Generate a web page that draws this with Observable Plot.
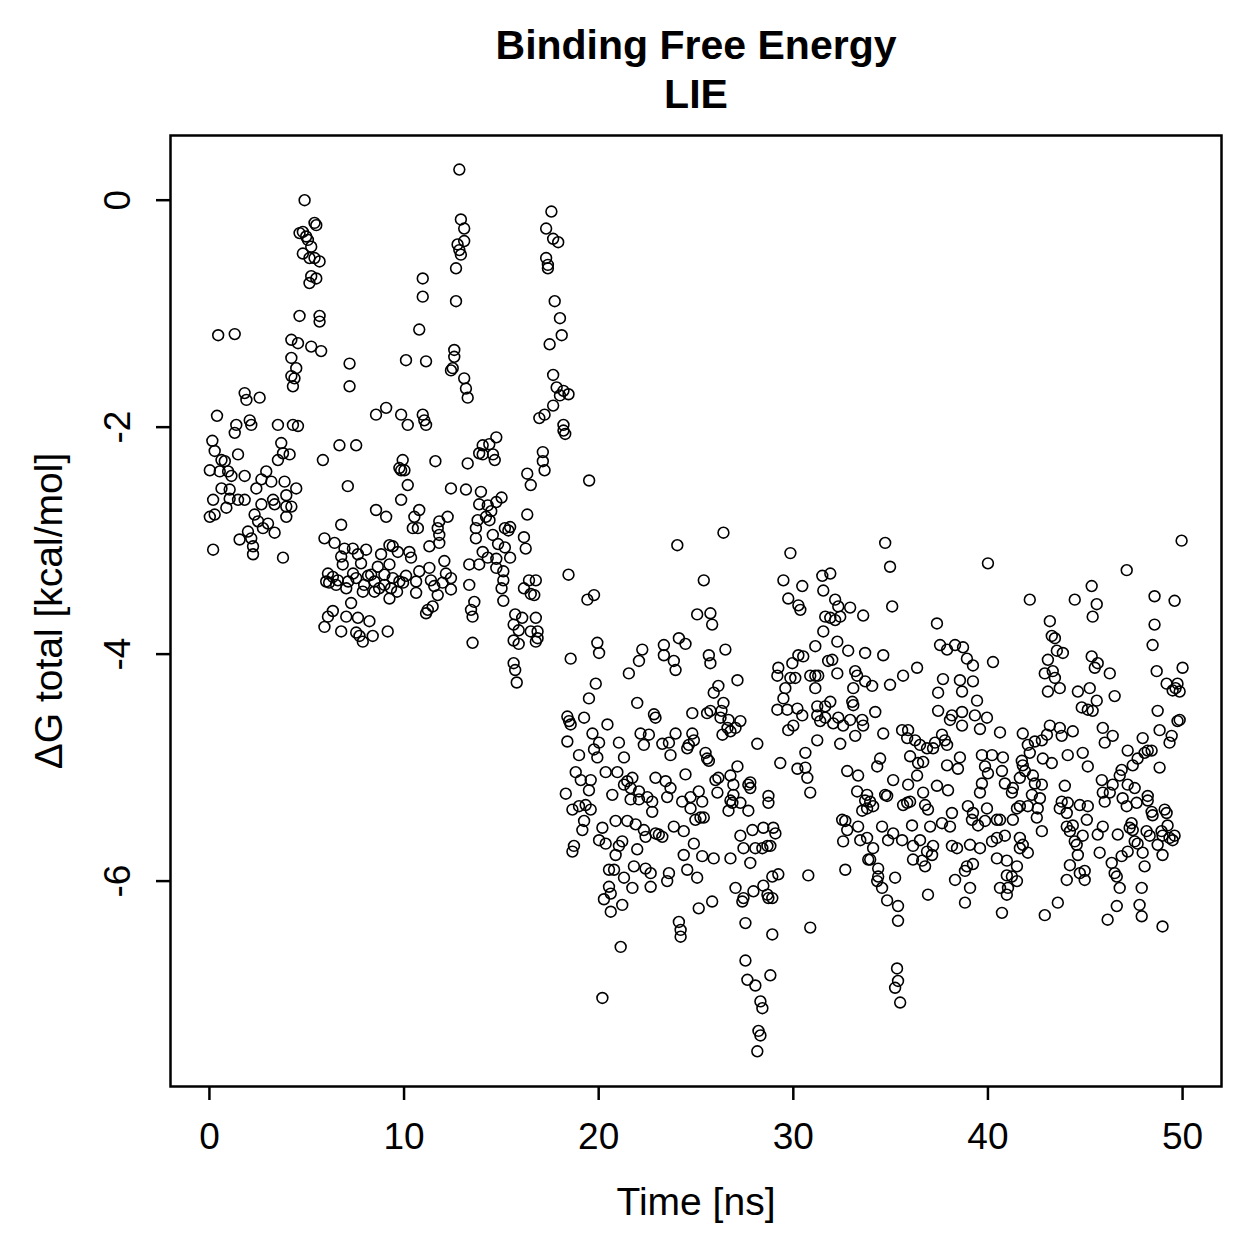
<!DOCTYPE html>
<html><head><meta charset="utf-8">
<script src="https://cdn.jsdelivr.net/npm/d3@7"></script>
<script src="https://cdn.jsdelivr.net/npm/@observablehq/plot@0.6"></script>
<style>html,body{margin:0;padding:0;background:#fff;} #chart svg{display:block}</style>
</head><body><div id="chart"></div>
<script>
// [time (ns), ΔG total (kcal/mol)]
const pts_0_4 = [[0.45,-1.19],[1.30,-1.18],[1.81,-1.70],[1.90,-1.76],[2.58,-1.74],[0.39,-1.90],[1.38,-1.98],[1.30,-2.05],[2.07,-1.94],[2.15,-1.98],[3.52,-1.98],[4.29,-1.98],[0.15,-2.12],[0.27,-2.21],[0.62,-2.29],[0.79,-2.30],[1.47,-2.24],[3.69,-2.14],[3.78,-2.23],[4.12,-2.24],[3.52,-2.29],[0.02,-2.38],[0.53,-2.39],[0.96,-2.39],[1.13,-2.43],[1.81,-2.43],[2.92,-2.39],[2.67,-2.46],[3.18,-2.48],[3.86,-2.48],[0.62,-2.54],[1.04,-2.55],[2.41,-2.54],[3.95,-2.60],[0.19,-2.64],[1.04,-2.63],[1.47,-2.64],[1.81,-2.64],[3.27,-2.64],[3.35,-2.68],[0.87,-2.71],[2.67,-2.68],[3.95,-2.70],[0.02,-2.79],[0.27,-2.77],[2.32,-2.77],[3.95,-2.79],[2.50,-2.83],[3.01,-2.85],[2.75,-2.89],[1.98,-2.92],[3.35,-2.93],[1.55,-2.99],[2.15,-2.98],[0.19,-3.08],[2.24,-3.05],[2.24,-3.12],[3.78,-3.15],[4.21,-1.23],[4.21,-1.39],[4.21,-1.55],[4.29,-1.64]];
const pts_4_9 = [[4.89,0.00],[5.40,-0.20],[5.49,-0.22],[4.80,-0.28],[4.63,-0.29],[4.97,-0.32],[5.06,-0.35],[5.23,-0.41],[4.80,-0.47],[5.14,-0.51],[5.40,-0.51],[5.66,-0.54],[5.23,-0.67],[5.49,-0.69],[5.14,-0.73],[4.63,-1.02],[5.66,-1.02],[5.66,-1.07],[4.55,-1.26],[5.23,-1.29],[5.74,-1.33],[7.20,-1.44],[7.20,-1.64],[4.46,-1.48],[4.37,-1.57],[8.56,-1.89],[9.08,-1.83],[4.55,-1.99],[6.68,-2.16],[7.54,-2.16],[5.83,-2.29],[7.11,-2.52],[4.46,-2.54],[4.21,-2.70],[8.56,-2.73],[9.08,-2.79],[6.77,-2.86],[5.91,-2.98],[6.43,-3.02],[6.94,-3.07],[7.37,-3.07],[8.05,-3.08],[8.82,-3.12],[9.25,-3.04],[6.77,-3.14],[7.63,-3.12],[7.79,-3.20],[6.85,-3.21],[8.65,-3.23],[6.09,-3.29],[6.34,-3.32],[6.00,-3.36],[6.60,-3.35],[7.54,-3.33],[8.31,-3.30],[8.48,-3.36],[8.99,-3.30],[8.99,-3.39],[7.03,-3.42],[7.88,-3.45],[8.48,-3.45],[9.25,-3.51],[7.28,-3.55],[6.34,-3.62],[6.09,-3.67],[7.03,-3.67],[7.63,-3.68],[8.22,-3.71],[5.91,-3.76],[6.77,-3.80],[7.54,-3.81],[7.71,-3.84],[8.39,-3.84],[7.88,-3.89],[9.16,-3.80],[6.15,-3.37],[6.51,-3.39],[7.13,-3.36],[7.38,-3.29],[7.95,-3.39],[8.15,-3.31],[8.72,-3.42]];
const pts_9_14 = [[12.84,0.27],[12.92,-0.17],[13.09,-0.25],[13.09,-0.36],[12.75,-0.39],[12.84,-0.44],[12.92,-0.48],[12.67,-0.60],[10.96,-0.69],[10.96,-0.85],[12.67,-0.89],[10.78,-1.14],[10.10,-1.41],[11.13,-1.42],[12.58,-1.32],[12.58,-1.38],[12.50,-1.48],[12.41,-1.50],[13.09,-1.57],[13.18,-1.66],[13.27,-1.74],[9.85,-1.89],[10.19,-1.98],[10.96,-1.89],[11.04,-1.94],[11.13,-1.98],[14.04,-2.16],[13.86,-2.23],[9.93,-2.29],[9.76,-2.36],[10.02,-2.38],[9.85,-2.38],[11.61,-2.30],[13.27,-2.32],[10.19,-2.51],[12.41,-2.54],[13.18,-2.55],[13.95,-2.57],[9.85,-2.64],[10.78,-2.73],[13.86,-2.68],[10.53,-2.79],[10.45,-2.89],[10.71,-2.89],[12.24,-2.79],[11.81,-2.83],[11.73,-2.89],[11.81,-2.95],[11.81,-3.02],[13.78,-2.82],[13.69,-2.89],[13.69,-2.98],[9.42,-3.05],[9.68,-3.10],[10.27,-3.10],[10.36,-3.15],[11.30,-3.05],[14.04,-3.10],[9.25,-3.21],[9.42,-3.33],[9.76,-3.36],[9.33,-3.42],[10.78,-3.27],[10.62,-3.36],[10.62,-3.46],[11.30,-3.24],[11.38,-3.35],[11.55,-3.40],[12.07,-3.18],[12.15,-3.29],[11.98,-3.37],[12.41,-3.33],[12.41,-3.43],[11.73,-3.48],[11.22,-3.61],[11.47,-3.58],[11.13,-3.64],[13.35,-3.21],[13.86,-3.21],[13.35,-3.39],[13.61,-3.54],[13.44,-3.61],[13.52,-3.67],[13.52,-3.90],[9.95,-3.37],[10.10,-3.31],[9.64,-3.45]];
const pts_14_19 = [[17.57,-0.10],[17.30,-0.25],[17.66,-0.34],[17.92,-0.37],[17.30,-0.51],[17.39,-0.57],[17.39,-0.60],[17.74,-0.89],[18.01,-1.04],[18.10,-1.19],[17.48,-1.27],[17.66,-1.54],[17.84,-1.65],[18.19,-1.68],[18.45,-1.71],[18.01,-1.72],[17.66,-1.81],[17.22,-1.89],[16.95,-1.92],[18.19,-1.98],[18.19,-2.03],[18.28,-2.06],[14.74,-2.09],[14.38,-2.15],[14.57,-2.24],[14.66,-2.29],[14.04,-2.24],[17.13,-2.22],[17.13,-2.30],[17.22,-2.38],[16.33,-2.41],[16.51,-2.51],[19.51,-2.47],[15.01,-2.62],[14.74,-2.66],[14.30,-2.69],[14.48,-2.74],[14.21,-2.79],[14.39,-2.82],[16.33,-2.77],[15.18,-2.89],[15.45,-2.88],[15.36,-2.91],[16.16,-2.97],[16.25,-3.07],[14.56,-2.95],[14.83,-3.03],[15.18,-3.06],[14.30,-3.15],[14.74,-3.16],[15.45,-3.15],[14.74,-3.24],[15.10,-3.27],[16.42,-3.35],[16.77,-3.35],[16.16,-3.42],[16.51,-3.47],[16.69,-3.48],[15.10,-3.35],[15.01,-3.42],[15.10,-3.53],[18.45,-3.30],[15.71,-3.65],[16.07,-3.68],[16.77,-3.68],[15.63,-3.74],[15.89,-3.79],[16.51,-3.80],[16.86,-3.80],[15.63,-3.88],[15.89,-3.91],[16.86,-3.86],[16.77,-3.89],[15.63,-4.08],[15.71,-4.14],[15.79,-4.25]];
const pts_18_26 = [[24.04,-3.04],[25.40,-3.35],[19.42,-3.52],[19.76,-3.48],[25.06,-3.65],[25.74,-3.64],[25.83,-3.74],[19.93,-3.90],[20.02,-3.99],[18.56,-4.04],[22.24,-3.96],[22.07,-4.06],[21.55,-4.17],[23.35,-3.92],[23.35,-4.01],[24.12,-3.86],[24.46,-3.91],[23.86,-4.06],[23.95,-4.14],[25.66,-4.01],[25.74,-4.08],[19.85,-4.26],[19.50,-4.39],[21.98,-4.43],[25.91,-4.34],[18.39,-4.55],[18.48,-4.59],[18.56,-4.62],[19.25,-4.56],[20.45,-4.62],[22.84,-4.53],[22.92,-4.56],[24.81,-4.52],[25.57,-4.52],[25.74,-4.50],[19.68,-4.70],[18.39,-4.77],[22.15,-4.70],[22.58,-4.71],[23.95,-4.70],[24.81,-4.70],[24.89,-4.76],[20.02,-4.78],[21.04,-4.78],[22.32,-4.80],[23.27,-4.79],[23.61,-4.78],[24.55,-4.83],[24.63,-4.80],[19.76,-4.84],[18.99,-4.89],[19.93,-4.91],[21.30,-4.91],[23.69,-4.89],[25.49,-4.87],[25.57,-4.92],[25.66,-4.94],[18.82,-5.04],[19.08,-5.11],[19.59,-5.11],[20.36,-5.04],[20.96,-5.04],[21.73,-5.09],[21.47,-5.12],[22.92,-5.09],[23.44,-5.12],[24.46,-5.06],[26.00,-5.11],[18.31,-5.23],[19.50,-5.20],[20.70,-5.24],[21.30,-5.15],[21.64,-5.18],[22.07,-5.21],[23.69,-5.18],[25.14,-5.21]];
const pts_18_26_low = [[21.64,-5.28],[22.07,-5.28],[22.50,-5.26],[22.75,-5.30],[22.75,-5.39],[23.52,-5.26],[24.29,-5.30],[24.72,-5.26],[25.32,-5.30],[24.72,-5.36],[18.65,-5.37],[18.99,-5.34],[19.33,-5.33],[19.59,-5.37],[19.25,-5.47],[19.16,-5.55],[20.19,-5.53],[20.87,-5.47],[21.47,-5.47],[21.90,-5.50],[22.32,-5.55],[22.41,-5.61],[22.92,-5.58],[23.09,-5.59],[23.27,-5.61],[23.86,-5.52],[24.37,-5.56],[24.97,-5.46],[25.23,-5.44],[25.40,-5.44],[20.02,-5.64],[20.36,-5.67],[21.21,-5.65],[21.04,-5.69],[18.73,-5.69],[18.65,-5.74],[20.87,-5.77],[21.98,-5.72],[24.89,-5.67],[24.37,-5.77],[25.32,-5.78],[25.91,-5.80],[20.53,-5.90],[20.79,-5.90],[21.81,-5.87],[22.41,-5.89],[22.67,-5.93],[23.61,-5.93],[23.52,-6.00],[24.55,-5.90],[25.06,-5.97],[21.30,-5.97],[21.73,-6.06],[22.67,-6.05],[20.53,-6.05],[20.62,-6.11],[20.27,-6.16],[21.21,-6.21],[20.62,-6.27],[25.83,-6.18],[25.14,-6.24],[24.12,-6.36],[24.21,-6.43],[24.21,-6.49],[21.13,-6.58],[20.19,-7.03]];
const pts_26_34 = [[26.41,-2.93],[29.85,-3.11],[29.49,-3.35],[30.46,-3.40],[31.49,-3.31],[31.90,-3.29],[31.54,-3.44],[29.74,-3.51],[30.26,-3.57],[30.36,-3.61],[32.15,-3.52],[32.31,-3.58],[32.92,-3.59],[33.59,-3.66],[31.64,-3.67],[31.90,-3.68],[32.15,-3.70],[32.41,-3.67],[31.54,-3.80],[32.26,-3.89],[31.13,-3.93],[32.82,-3.97],[33.69,-3.99],[26.51,-3.96],[30.26,-4.01],[30.51,-4.02],[29.95,-4.08],[31.79,-4.06],[32.00,-4.05],[29.23,-4.12],[29.18,-4.19],[29.85,-4.21],[30.10,-4.21],[30.87,-4.19],[31.13,-4.19],[31.28,-4.19],[32.26,-4.17],[33.18,-4.15],[33.28,-4.19],[33.69,-4.24],[27.13,-4.23],[26.15,-4.28],[29.59,-4.30],[31.13,-4.30],[33.08,-4.30],[29.49,-4.39],[26.41,-4.43],[33.03,-4.42],[33.08,-4.45],[31.90,-4.42],[31.64,-4.46],[31.23,-4.46],[29.18,-4.49],[29.69,-4.49],[30.21,-4.48],[30.46,-4.54],[31.23,-4.54],[31.38,-4.59],[31.64,-4.56],[32.05,-4.61],[32.31,-4.56],[32.56,-4.63],[32.92,-4.58],[33.54,-4.58],[33.59,-4.63],[29.74,-4.67],[30.00,-4.63],[31.23,-4.76],[32.41,-4.79],[33.18,-4.72],[28.15,-4.79],[30.62,-4.87],[29.33,-4.96],[30.21,-5.01],[30.62,-5.00],[30.72,-5.09],[32.77,-5.03],[33.33,-5.07],[26.31,-4.50],[26.26,-4.56],[26.67,-4.58],[27.28,-4.59],[27.03,-4.65],[26.62,-4.65],[26.36,-4.71],[26.77,-4.68],[27.13,-4.99],[26.77,-5.07],[26.15,-5.09],[26.92,-5.15],[27.69,-5.15],[27.79,-5.13],[26.10,-5.22],[26.92,-5.24],[28.72,-5.25],[30.87,-5.22],[33.28,-5.21],[33.79,-5.24]];
const pts_26_34_low = [[27.79,-5.18],[26.77,-5.29],[26.87,-5.31],[27.28,-5.31],[26.67,-5.38],[27.69,-5.38],[28.72,-5.31],[33.69,-5.29],[33.79,-5.36],[33.54,-5.38],[32.51,-5.46],[32.67,-5.47],[32.77,-5.55],[33.33,-5.52],[32.56,-5.65],[33.44,-5.64],[33.85,-5.81],[32.67,-5.90],[27.28,-5.60],[27.90,-5.55],[28.46,-5.53],[28.97,-5.53],[29.08,-5.58],[27.44,-5.71],[28.05,-5.71],[28.41,-5.71],[28.67,-5.69],[28.82,-5.69],[26.77,-5.80],[27.79,-5.84],[28.92,-5.96],[29.23,-5.94],[30.77,-5.95],[27.03,-6.06],[27.44,-6.15],[27.38,-6.18],[27.95,-6.09],[28.46,-6.04],[28.67,-6.12],[28.72,-6.15],[28.92,-6.15],[27.54,-6.37],[28.92,-6.47],[30.87,-6.41],[27.54,-6.70],[27.64,-6.87],[28.05,-6.92],[28.82,-6.83],[28.31,-7.06],[28.41,-7.12],[28.21,-7.32],[28.31,-7.36],[28.15,-7.50]];
const pts_34_42 = [[34.72,-3.02],[34.97,-3.23],[40.00,-3.20],[35.08,-3.58],[37.38,-3.73],[37.54,-3.92],[37.90,-3.96],[38.31,-3.92],[38.72,-3.94],[38.92,-4.04],[39.23,-4.10],[40.26,-4.07],[34.62,-4.01],[36.36,-4.12],[35.64,-4.19],[34.97,-4.27],[34.05,-4.28],[37.69,-4.22],[38.56,-4.23],[39.23,-4.24],[37.44,-4.34],[38.67,-4.33],[39.44,-4.41],[37.44,-4.50],[38.15,-4.54],[38.67,-4.51],[38.05,-4.58],[39.33,-4.54],[39.95,-4.56],[38.67,-4.63],[39.59,-4.66],[40.62,-4.69],[41.79,-4.70],[34.21,-4.51],[34.62,-4.70],[35.59,-4.67],[35.90,-4.67],[35.85,-4.74],[36.26,-4.76],[36.51,-4.80],[36.87,-4.83],[37.18,-4.83],[37.28,-4.78],[37.64,-4.71],[37.79,-4.76],[37.90,-4.80],[36.00,-4.90],[36.41,-4.96],[36.67,-4.95],[38.56,-4.91],[37.90,-4.98],[38.46,-5.01],[39.69,-4.89],[40.21,-4.89],[40.77,-4.91],[41.74,-4.94],[34.46,-4.92],[34.31,-4.99],[36.36,-5.07],[39.85,-4.99],[40.00,-5.05],[40.72,-5.03],[41.64,-5.09],[35.13,-5.11],[35.90,-5.15],[37.38,-5.16],[37.95,-5.20],[39.69,-5.14],[39.59,-5.22],[40.87,-5.14],[41.28,-5.18],[36.67,-5.22],[34.72,-5.24]];
const pts_34_42_low = [[33.95,-5.30],[34.10,-5.34],[34.82,-5.25],[35.64,-5.33],[35.85,-5.31],[36.00,-5.30],[36.77,-5.33],[36.92,-5.37],[38.15,-5.40],[38.05,-5.52],[37.64,-5.49],[38.97,-5.34],[39.23,-5.40],[39.95,-5.36],[39.18,-5.46],[39.49,-5.51],[39.85,-5.47],[40.46,-5.46],[40.62,-5.46],[41.23,-5.22],[41.28,-5.46],[41.49,-5.36],[41.64,-5.34],[34.56,-5.52],[35.13,-5.58],[34.87,-5.64],[35.59,-5.64],[36.10,-5.51],[37.03,-5.52],[36.51,-5.64],[36.15,-5.69],[36.87,-5.74],[37.18,-5.69],[37.13,-5.77],[36.15,-5.81],[36.62,-5.82],[36.77,-5.87],[38.15,-5.69],[38.41,-5.71],[39.08,-5.68],[39.59,-5.71],[40.21,-5.65],[40.46,-5.62],[40.87,-5.60],[41.64,-5.62],[41.64,-5.71],[40.46,-5.80],[40.97,-5.82],[41.49,-5.87],[33.79,-5.62],[34.10,-5.71],[33.95,-5.81],[34.36,-5.89],[34.36,-5.96],[34.31,-6.00],[34.56,-6.06],[35.23,-5.97],[34.82,-6.17],[35.38,-6.22],[35.38,-6.35],[36.92,-6.12],[38.31,-5.99],[38.82,-5.91],[38.92,-5.87],[39.23,-5.85],[39.08,-6.06],[38.82,-6.19],[40.97,-5.95],[41.23,-5.96],[41.49,-6.00],[41.03,-6.06],[40.62,-6.06],[40.97,-6.12],[40.72,-6.28],[35.33,-6.77],[35.38,-6.88],[35.23,-6.94],[35.49,-7.07]];
const pts_42_50 = [[49.95,-3.00],[47.13,-3.26],[45.33,-3.40],[42.15,-3.52],[44.46,-3.52],[48.56,-3.49],[49.59,-3.53],[45.59,-3.56],[45.38,-3.67],[43.18,-3.71],[48.56,-3.74],[48.46,-3.92],[43.28,-3.84],[43.44,-3.86],[43.54,-3.97],[43.85,-3.99],[43.08,-4.05],[42.92,-4.17],[43.33,-4.15],[43.44,-4.21],[43.69,-4.30],[43.08,-4.33],[45.33,-4.02],[45.64,-4.08],[45.49,-4.12],[46.26,-4.17],[48.67,-4.15],[50.00,-4.12],[49.18,-4.26],[49.74,-4.26],[49.49,-4.32],[49.85,-4.33],[49.64,-4.30],[44.62,-4.33],[45.23,-4.30],[46.51,-4.37],[45.59,-4.41],[44.82,-4.47],[45.13,-4.49],[45.38,-4.50],[48.72,-4.50],[49.85,-4.58],[49.74,-4.59],[42.05,-4.80],[42.41,-4.77],[42.77,-4.76],[43.03,-4.71],[43.18,-4.63],[43.69,-4.65],[43.79,-4.72],[44.36,-4.68],[45.90,-4.65],[46.41,-4.72],[46.00,-4.78],[48.82,-4.67],[49.44,-4.72],[49.33,-4.78],[47.95,-4.74],[47.18,-4.85],[48.21,-4.85],[48.41,-4.85],[48.05,-4.87],[47.69,-4.92],[47.44,-4.98],[46.87,-5.02],[46.77,-5.07],[45.85,-5.11],[46.41,-5.15],[47.18,-5.15],[47.54,-5.18],[48.82,-5.00],[42.15,-4.87],[42.82,-4.92],[43.28,-4.96],[44.10,-4.89],[44.87,-4.87],[45.13,-4.99],[41.79,-4.98],[41.90,-5.03],[42.31,-5.07],[42.41,-5.14],[42.77,-5.15],[43.95,-5.16],[45.90,-5.22],[46.26,-5.22],[48.21,-5.25]];
const pts_42_50_low = [[42.26,-5.24],[42.67,-5.27],[42.05,-5.34],[42.56,-5.36],[42.51,-5.44],[42.77,-5.56],[43.79,-5.30],[44.10,-5.31],[43.69,-5.36],[44.05,-5.40],[44.72,-5.33],[45.13,-5.34],[45.08,-5.46],[44.05,-5.52],[44.21,-5.56],[44.36,-5.51],[44.87,-5.60],[44.46,-5.65],[44.56,-5.68],[44.62,-5.77],[44.21,-5.86],[44.72,-5.93],[44.97,-5.91],[44.97,-5.99],[44.05,-5.99],[43.59,-6.19],[42.92,-6.30],[41.79,-5.68],[42.05,-5.75],[46.00,-5.30],[46.92,-5.27],[47.13,-5.34],[47.64,-5.31],[48.21,-5.29],[48.41,-5.39],[48.46,-5.42],[49.08,-5.37],[49.18,-5.40],[49.23,-5.51],[45.90,-5.52],[45.64,-5.59],[46.67,-5.59],[47.38,-5.49],[47.28,-5.53],[47.44,-5.55],[48.15,-5.56],[48.31,-5.60],[48.92,-5.56],[48.97,-5.60],[49.33,-5.62],[49.59,-5.60],[49.49,-5.64],[47.54,-5.65],[47.69,-5.67],[48.72,-5.68],[45.74,-5.75],[46.36,-5.84],[46.87,-5.78],[47.18,-5.74],[47.95,-5.75],[48.97,-5.77],[46.51,-5.93],[46.62,-5.96],[46.77,-6.06],[48.05,-5.87],[47.90,-6.06],[46.62,-6.22],[46.15,-6.34],[47.79,-6.21],[47.90,-6.31],[48.97,-6.40]];

const xTicks = [0, 10, 20, 30, 40, 50];
const yTicks = [0, -2, -4, -6];
const yTickLabels = ["0", "-2", "-4", "-6"];
const titleLines = ["Binding Free Energy", "LIE"];
const xLabel = "Time [ns]";
const yLabel = "ΔG total [kcal/mol]";

const data = [].concat(pts_0_4, pts_4_9, pts_9_14, pts_14_19, pts_18_26, pts_18_26_low,
  pts_26_34, pts_26_34_low, pts_34_42, pts_34_42_low, pts_42_50, pts_42_50_low)
  .map(([t, g]) => ({t, g}));

const font = "'Liberation Sans', Arial, Helvetica, sans-serif";
const txt = {textAnchor: "middle", lineAnchor: "middle"};
const chart = Plot.plot({
  width: 1259, height: 1259,
  marginLeft: 170, marginRight: 38, marginTop: 135, marginBottom: 173,
  style: {fontFamily: font, background: "white", color: "black", overflow: "visible"},
  x: {domain: [-2, 52], axis: null},
  y: {domain: [-7.81, 0.57], axis: null},
  marks: [
    Plot.frame({stroke: "black", strokeWidth: 2.5}),
    Plot.axisX({ticks: xTicks, tickSize: 14, tickPadding: 22, fontSize: 37, strokeWidth: 2.5, tickFormat: d => String(d), label: null, anchor: "bottom"}),
    Plot.axisY({ticks: yTicks, tickSize: 14, strokeWidth: 2.5, tickFormat: () => "", label: null, anchor: "left"}),
    Plot.text(yTicks, {...txt, y: d => d, text: (d, i) => yTickLabels[i], frameAnchor: "left", dx: -52, rotate: -90, fontSize: 37}),
    Plot.text([xLabel], {...txt, frameAnchor: "bottom", dy: 116, fontSize: 39, text: d => d}),
    Plot.text([yLabel], {...txt, frameAnchor: "left", dx: -121, rotate: -90, fontSize: 39, text: d => d}),
    Plot.text([titleLines[0]], {...txt, frameAnchor: "top", dy: -90, fontSize: 41, fontWeight: "bold", text: d => d}),
    Plot.text([titleLines[1]], {...txt, frameAnchor: "top", dy: -41, fontSize: 41, fontWeight: "bold", text: d => d}),
    Plot.dot(data, {x: "t", y: "g", r: 5.4, stroke: "black", strokeWidth: 1.6, fill: "none"})
  ]
});
document.getElementById("chart").appendChild(chart);
</script>
</body></html>
